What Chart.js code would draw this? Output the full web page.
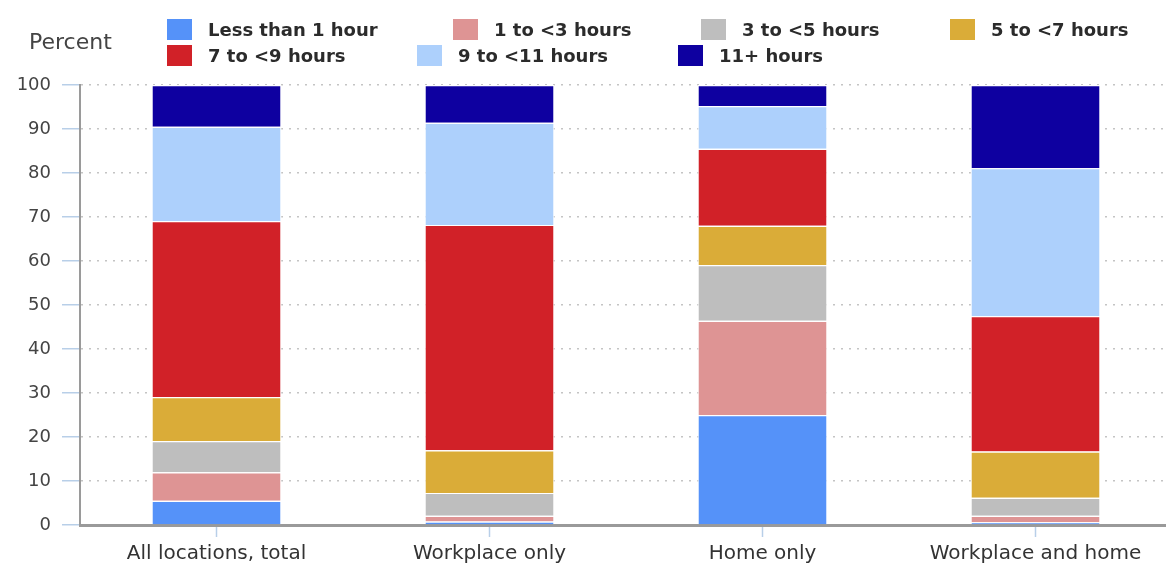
<!DOCTYPE html>
<html>
<head>
<meta charset="utf-8">
<script src="https://cdn.jsdelivr.net/npm/chart.js@4"></script>
<style>
  body { margin: 0; background: #fff; font-family: 'DejaVu Sans', sans-serif; }
  #wrap { position: relative; width: 1166px; height: 563px; overflow: hidden; }
  #chart { position: absolute; left: 0; top: 0; }
  #legende { position: absolute; left: 0; top: 0; width: 1166px; height: 80px; }
  .item { position: absolute; display: flex; align-items: center; font-size: 18px; font-weight: bold; color: #2b2b2b; white-space: nowrap; height: 21px; }
  .item span.box { width: 25px; height: 21px; margin-right: 16px; flex: none; }
  #percent { position: absolute; left: 29px; top: 29px; font-size: 22px; color: #444; }
</style>
</head>
<body>
<div id="wrap">
  <canvas id="chart" width="1172" height="563"></canvas>
  <div id="legende"></div>
  <div id="percent">Percent</div>
</div>
<script>
const CATEGORIES = ['All locations, total', 'Workplace only', 'Home only', 'Workplace and home'];

const SERIES_LABELS = ['Less than 1 hour', '1 to <3 hours', '3 to <5 hours', '5 to <7 hours', '7 to <9 hours', '9 to <11 hours', '11+ hours'];
const SERIES_COLORS = ['#5592F9', '#DE9494', '#BEBEBE', '#DAAC38', '#D12128', '#ADD0FC', '#0E00A0'];

const moinsUneHeure = [5.5, 0.8, 25.0, 0.6];
const unATrois = [6.5, 1.3, 21.4, 1.5];
const troisACinq = [7.1, 5.2, 12.7, 4.1];
const cinqASept = [10.0, 9.7, 8.9, 10.5];
const septANeuf = [40.0, 51.2, 17.5, 30.8];
const neufAOnze = [21.4, 23.2, 9.7, 33.6];
const onzePlus = [9.5, 8.6, 4.8, 18.9];

const SERIES_VALUES = [moinsUneHeure, unATrois, troisACinq, cinqASept, septANeuf, neufAOnze, onzePlus];

const Y_TICKS = [0, 10, 20, 30, 40, 50, 60, 70, 80, 90, 100];

// position des entrées de la légende (gauche, haut)
const LEGEND_POS = [[167, 19], [453, 19], [701, 19], [950, 19], [167, 45], [417, 45], [678, 45]];

const legende = document.getElementById('legende');
SERIES_LABELS.forEach((label, i) => {
  const div = document.createElement('div');
  div.className = 'item';
  div.style.left = LEGEND_POS[i][0] + 'px';
  div.style.top = LEGEND_POS[i][1] + 'px';
  div.innerHTML = `<span class="box" style="background:${SERIES_COLORS[i]}"></span>`;
  div.appendChild(document.createTextNode(label));
  legende.appendChild(div);
});

new Chart(document.getElementById('chart'), {
  type: 'bar',
  data: {
    labels: CATEGORIES,
    datasets: SERIES_LABELS.map((label, i) => ({
      label,
      data: SERIES_VALUES[i],
      backgroundColor: SERIES_COLORS[i],
      borderColor: '#ffffff',
      borderWidth: 1.2,
      borderSkipped: 'start',
      barPercentage: 0.476,
      categoryPercentage: 1,
    })),
  },
  options: {
    responsive: false,
    animation: false,
    devicePixelRatio: 1,
    layout: { padding: { top: 85, right: 0, bottom: 0, left: 0 } },
    plugins: { legend: { display: false }, tooltip: { enabled: false } },
    scales: {
      x: {
        stacked: true,
        afterFit: (s) => { s.height = 38; },
        grid: { display: true, drawOnChartArea: false, drawTicks: true, tickLength: 12, tickColor: '#B8CFE8', tickWidth: 1.5, offset: false },
        border: { display: true, color: '#9A9A9A', width: 3 },
        ticks: { color: '#333', font: { family: 'DejaVu Sans', size: 20 }, padding: 5, maxRotation: 0 },
      },
      y: {
        stacked: true,
        min: 0,
        max: 100,
        afterFit: (s) => { s.width = 80; },
        afterBuildTicks: (s) => { s.ticks = Y_TICKS.map((v) => ({ value: v })); },
        grid: { color: '#C4C4C4', lineWidth: 1.5, tickLength: 18, tickColor: '#B8CFE8', tickWidth: 1.5 },
        border: { display: true, color: '#9A9A9A', width: 2, dash: [2, 6] },
        ticks: { color: '#444', font: { family: 'DejaVu Sans', size: 18 }, padding: 11 },
      },
    },
  },
});
</script>
</body>
</html>
